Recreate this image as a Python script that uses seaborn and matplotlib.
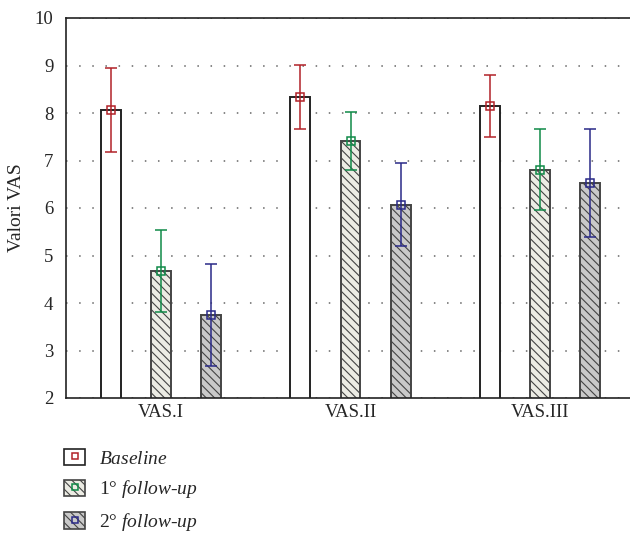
import matplotlib
matplotlib.use("Agg")
import matplotlib.pyplot as plt
import seaborn as sns
import pandas as pd
from matplotlib.patches import Patch
from matplotlib.lines import Line2D

categories = ["VAS.I", "VAS.II", "VAS.III"]
series = ["Baseline", "1° follow-up", "2° follow-up"]
baseline = [8.06, 8.34, 8.15]
follow1 = [4.67, 7.41, 6.80]
follow2 = [3.75, 6.06, 6.53]
baseline_lo = [7.18, 7.66, 7.50]
baseline_hi = [8.95, 9.01, 8.80]
follow1_lo = [3.81, 6.80, 5.96]
follow1_hi = [5.54, 8.02, 7.66]
follow2_lo = [2.67, 5.20, 5.40]
follow2_hi = [4.82, 6.95, 7.66]
yticks = [2, 3, 4, 5, 6, 7, 8, 9, 10]

values = [baseline, follow1, follow2]
lows = [baseline_lo, follow1_lo, follow2_lo]
highs = [baseline_hi, follow1_hi, follow2_hi]

rows = []
for s, vals in zip(series, values):
    for c, v in zip(categories, vals):
        rows.append({"cat": c, "series": s, "val": v})
df = pd.DataFrame(rows)

sns.set_style("white")
plt.rcParams["font.family"] = ["Liberation Serif", "DejaVu Serif"]
plt.rcParams["mathtext.fontset"] = "custom"
plt.rcParams["mathtext.it"] = "Liberation Serif:italic"
plt.rcParams["mathtext.rm"] = "Liberation Serif"
plt.rcParams["hatch.linewidth"] = 0.8

fig = plt.figure(figsize=(6.3, 5.33), dpi=100)
ax = fig.add_axes([66 / 630, 135 / 533, 569 / 630, 380 / 533])

facecolors = ["#ffffff", "#ecece4", "#c9c9c9"]
edgecolors = ["#222222", "#444444", "#444444"]
hatches = ["", "\\\\\\\\", "\\\\\\\\"]
errcolors = ["#b22228", "#108a48", "#2a2a88"]

sns.barplot(data=df, x="cat", y="val", hue="series", order=categories,
            hue_order=series, errorbar=None, width=0.795, gap=0.604,
            ax=ax, legend=False)

bar_containers = list(ax.containers)
for i, cont in enumerate(bar_containers):
    for j, bar in enumerate(cont):
        bar.set_facecolor(facecolors[i])
        bar.set_edgecolor(edgecolors[i])
        bar.set_linewidth(1.4)
        bar.set_hatch(hatches[i])
        bar.set_zorder(2)
        xc = bar.get_x() + bar.get_width() / 2
        v = values[i][j]
        ax.errorbar([xc], [v], yerr=[[v - lows[i][j]], [highs[i][j] - v]],
                    fmt="s", mfc="none", mec=errcolors[i], ms=6, mew=1.1,
                    ecolor=errcolors[i], elinewidth=1.1, capsize=4,
                    capthick=1.1, zorder=4)

ax.set_xlim(-0.5, 2.5)
ax.set_ylim(2, 10)
ax.set_yticks(yticks)
ax.set_yticklabels([str(t) for t in yticks])
ax.set_xlabel("")
ax.set_ylabel("Valori VAS", fontsize=14, labelpad=7)
ax.grid(axis="y", color="#666666", linestyle=(0, (1, 7.6)), linewidth=1.1)
ax.set_axisbelow(True)
for side in ["left", "bottom", "top"]:
    ax.spines[side].set_color("#222222")
    ax.spines[side].set_linewidth(1.2)
ax.spines["right"].set_visible(False)
ax.tick_params(axis="both", labelsize=13.5, direction="in", length=4,
               color="#222222", width=1)
ax.tick_params(axis="y", pad=9)
ax.tick_params(axis="x", pad=4)

handles = []
for i in range(3):
    p = Patch(facecolor=facecolors[i], edgecolor=edgecolors[i],
              hatch=hatches[i], linewidth=1.2)
    m = Line2D([], [], marker="s", ls="none", mfc="none",
               mec=errcolors[i], ms=5, mew=1.1)
    handles.append((p, m))
labels = [r"$\mathit{Baseline}$",
          r"1° $\mathit{follow}$-$\mathit{up}$",
          r"2° $\mathit{follow}$-$\mathit{up}$"]
fig.legend(handles, labels, loc="upper left",
           bbox_to_anchor=(64 / 630, 1 - 449 / 533), frameon=False,
           fontsize=14, handlelength=1.1, handleheight=0.9,
           handletextpad=0.72, labelspacing=0.55, borderpad=0,
           borderaxespad=0)

fig.savefig("out.png", dpi=100)
